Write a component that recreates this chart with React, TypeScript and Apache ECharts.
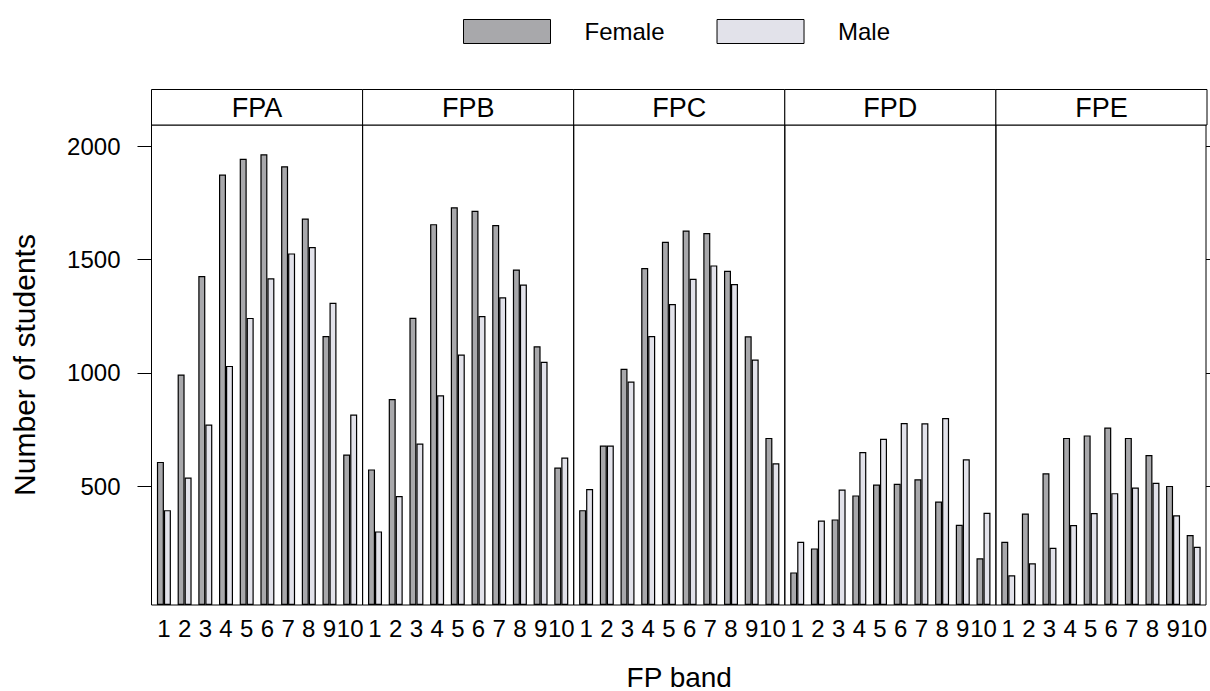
import React, { useEffect, useRef } from 'react';
import * as echarts from 'echarts';

const panels = ['FPA', 'FPB', 'FPC', 'FPD', 'FPE'];
const bands = [1, 2, 3, 4, 5, 6, 7, 8, 9, 10];
const seriesNames = ['Female', 'Male'];
const yTicks = [500, 1000, 1500, 2000];

const femaleFPA = [607, 993, 1428, 1876, 1946, 1966, 1913, 1682, 1163, 640];
const maleFPA = [394, 538, 772, 1031, 1243, 1418, 1528, 1556, 1310, 816];
const femaleFPB = [574, 885, 1244, 1657, 1732, 1716, 1653, 1457, 1118, 582];
const maleFPB = [300, 456, 688, 901, 1081, 1251, 1334, 1390, 1049, 626];
const femaleFPC = [394, 679, 1018, 1463, 1579, 1629, 1618, 1451, 1162, 713];
const maleFPC = [487, 679, 962, 1163, 1304, 1416, 1475, 1393, 1059, 601];
const femaleFPD = [119, 225, 353, 459, 507, 510, 530, 432, 329, 181];
const maleFPD = [254, 348, 485, 651, 709, 779, 778, 801, 619, 382];
const femaleFPE = [254, 379, 557, 713, 724, 759, 713, 637, 501, 284];
const maleFPE = [106, 159, 228, 328, 381, 469, 494, 515, 371, 232];

const femaleByPanel = [femaleFPA, femaleFPB, femaleFPC, femaleFPD, femaleFPE];
const maleByPanel = [maleFPA, maleFPB, maleFPC, maleFPD, maleFPE];

const FONT = '"Liberation Sans", Arial, Helvetica, sans-serif';
const FEMALE_COLOR = '#a8a8ab';
const MALE_COLOR = '#e2e2ea';

const PL = 151.5;
const PW = 211.1;
const PT = 125;
const PH = 480;
const STRIP_TOP = 89.5;

export default function App() {
  const ref = useRef<HTMLDivElement>(null);

  useEffect(() => {
    const chart = echarts.init(ref.current as HTMLDivElement, null, { renderer: 'svg' });

    const grid = panels.map((_, i) => ({
      left: PL + i * PW,
      top: PT,
      width: PW,
      height: PH,
      show: true,
      borderColor: '#000',
      borderWidth: 1,
      backgroundColor: 'transparent',
    }));

    const xAxis = panels.map((_, i) => ({
      gridIndex: i,
      type: 'value',
      min: 0.4,
      max: 10.6,
      axisLine: { show: false },
      axisTick: { show: false },
      splitLine: { show: false },
      axisLabel: {
        customValues: bands,
        fontSize: 24,
        color: '#000',
        margin: 11,
        fontFamily: FONT,
        formatter: (v: number) => String(v),
      },
    }));

    const yAxis = panels.map((_, i) => ({
      gridIndex: i,
      type: 'value',
      min: -25,
      max: 2095,
      startValue: -25,
      position: i === panels.length - 1 ? 'right' : 'left',
      axisLine: { show: false },
      splitLine: { show: false },
      axisTick: {
        show: i === 0 || i === panels.length - 1,
        customValues: yTicks,
        length: 14,
        lineStyle: { color: '#000', width: 1 },
      },
      axisLabel: {
        show: i === 0,
        customValues: yTicks,
        fontSize: 24,
        color: '#000',
        margin: 31,
        fontFamily: FONT,
        formatter: (v: number) => String(v),
      },
    }));

    const series: any[] = [];
    panels.forEach((p, i) => {
      series.push({
        name: seriesNames[0],
        type: 'bar',
        xAxisIndex: i,
        yAxisIndex: i,
        barWidth: 7,
        barGap: '0%',
        data: bands.map((b, k) => [b, femaleByPanel[i][k]]),
        itemStyle: { color: FEMALE_COLOR, borderColor: '#000', borderWidth: 1.2 },
      });
      series.push({
        name: seriesNames[1],
        type: 'bar',
        xAxisIndex: i,
        yAxisIndex: i,
        barWidth: 7,
        barGap: '0%',
        data: bands.map((b, k) => [b, maleByPanel[i][k]]),
        itemStyle: { color: MALE_COLOR, borderColor: '#000', borderWidth: 1.2 },
      });
    });

    const strips = panels.map((p, i) => ({
      type: 'group',
      children: [
        {
          type: 'rect',
          shape: { x: PL + i * PW, y: STRIP_TOP, width: PW, height: PT - STRIP_TOP },
          style: { fill: '#fff', stroke: '#000', lineWidth: 1 },
        },
        {
          type: 'text',
          x: PL + i * PW + PW / 2,
          y: (STRIP_TOP + PT) / 2 + 1,
          style: {
            text: p,
            fontSize: 27,
            fontFamily: FONT,
            fill: '#000',
            align: 'center',
            verticalAlign: 'middle',
          },
        },
      ],
    }));

    const option: any = {
      animation: false,
      backgroundColor: '#fff',
      textStyle: { fontFamily: FONT },
      legend: {
        data: seriesNames,
        left: 463,
        top: 19,
        padding: 0,
        itemWidth: 87,
        itemHeight: 24,
        itemGap: 52,
        icon: 'rect',
        itemStyle: { borderColor: '#000', borderWidth: 1 },
        textStyle: { fontSize: 24, color: '#000', fontFamily: FONT, padding: [0, 0, 0, 29] },
        selectedMode: false,
      },
      grid,
      xAxis,
      yAxis,
      series,
      graphic: [
        ...strips,
        {
          type: 'text',
          x: 24.5,
          y: PT + PH / 2,
          rotation: Math.PI / 2,
          style: {
            text: 'Number of students',
            fontSize: 30,
            fontFamily: FONT,
            fill: '#000',
            align: 'center',
            verticalAlign: 'middle',
          },
        },
        {
          type: 'text',
          x: PL + (PW * panels.length) / 2,
          y: 677,
          style: {
            text: 'FP band',
            fontSize: 28,
            lineHeight: 26,
            fontFamily: FONT,
            fill: '#000',
            align: 'center',
            verticalAlign: 'middle',
          },
        },
      ],
    };

    chart.setOption(option);
    return () => chart.dispose();
  }, []);

  return (
    <div
      ref={ref}
      style={{ position: 'absolute', left: 0, top: 0, width: 1210, height: 691 }}
    />
  );
}
